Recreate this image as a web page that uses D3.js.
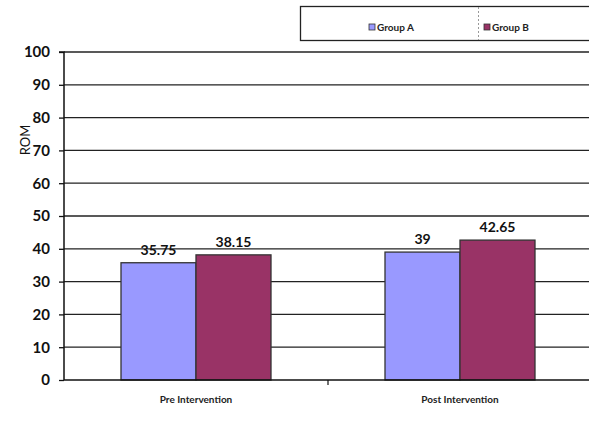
<!DOCTYPE html>
<html><head><meta charset="utf-8">
<script src="https://cdn.jsdelivr.net/npm/d3@7"></script>
<style>body{margin:0;background:#fff;}svg{display:block;font-family:Lato,"Open Sans",sans-serif;}</style>
</head><body><svg id="c" width="589" height="427"></svg>
<script>
const categories = ["Pre Intervention", "Post Intervention"];
const seriesNames = ["Group A", "Group B"];
const groupA = [35.75, 39];
const groupB = [38.15, 42.65];
const labelsA = ["35.75", "39"];
const labelsB = ["38.15", "42.65"];
const yTicks = [0, 10, 20, 30, 40, 50, 60, 70, 80, 90, 100];
const colors = ["#9999FF", "#993366"];

const svg = d3.select("#c");
const pLeft = 64, pRight = 592, pTop = 52, pBottom = 380;
const x = d3.scaleBand().domain(categories).range([pLeft, pRight]).paddingInner(0).paddingOuter(0);
const xs = d3.scaleBand().domain(seriesNames).range([0, x.bandwidth()]).paddingInner(0).paddingOuter(0.76);
const y = d3.scaleLinear().domain([0, 100]).range([pBottom, pTop]);

// gridlines
svg.append("g").selectAll("line").data(yTicks.filter(d => d > 0)).join("line")
  .attr("x1", pLeft).attr("x2", pRight).attr("y1", d => y(d)).attr("y2", d => y(d))
  .attr("stroke", "#222").attr("stroke-width", 1.3);

// bars
const series = [groupA, groupB];
const labels = [labelsA, labelsB];
series.forEach((vals, si) => {
  const g = svg.append("g");
  g.selectAll("rect").data(categories).join("rect")
    .attr("x", (c) => x(c) + xs(seriesNames[si]))
    .attr("width", xs.bandwidth())
    .attr("y", (c, i) => y(vals[i]))
    .attr("height", (c, i) => y(0) - y(vals[i]))
    .attr("fill", colors[si]).attr("stroke", "#333").attr("stroke-width", 1.3);
  g.selectAll("text").data(categories).join("text")
    .attr("x", (c) => x(c) + xs(seriesNames[si]) + xs.bandwidth() / 2)
    .attr("y", (c, i) => y(vals[i]) - 8)
    .attr("text-anchor", "middle").attr("font-weight", "bold").attr("font-size", 14)
    .attr("fill", "#111").text((c, i) => labels[si][i]);
});

// y axis
const yAxis = d3.axisLeft(y).tickValues(yTicks).tickSize(5).tickPadding(9).tickFormat(d3.format("d"));
const ya = svg.append("g").attr("transform", `translate(${pLeft},0)`).call(yAxis);
ya.select(".domain").attr("stroke", "#111").attr("stroke-width", 1.5).attr("d", `M-5,${pTop}H0V${pBottom}`);
ya.selectAll(".tick line").attr("stroke", "#111").attr("stroke-width", 1.3);
ya.selectAll(".tick text").attr("font-size", 15).attr("font-weight", "bold").attr("fill", "#111")
  .attr("font-family", "Lato, 'Open Sans', sans-serif");

// x axis
svg.append("line").attr("x1", pLeft).attr("x2", pRight).attr("y1", pBottom).attr("y2", pBottom)
  .attr("stroke", "#111").attr("stroke-width", 1.5);
svg.append("line").attr("x1", x(categories[1])).attr("x2", x(categories[1])).attr("y1", pBottom).attr("y2", pBottom + 5)
  .attr("stroke", "#111").attr("stroke-width", 1.2);
svg.append("g").selectAll("text").data(categories).join("text")
  .attr("x", c => x(c) + x.bandwidth() / 2).attr("y", 403)
  .attr("text-anchor", "middle").attr("font-size", 10).attr("font-weight", "bold").attr("fill", "#222")
  .text(c => c);

// y label
svg.append("text").attr("transform", "translate(30,140) rotate(-90)").attr("text-anchor", "middle")
  .attr("font-size", 13).attr("fill", "#111").text("ROM");

// legend
svg.append("rect").attr("x", 300.5).attr("y", 6.5).attr("width", 300).attr("height", 34)
  .attr("fill", "#fff").attr("stroke", "#222").attr("stroke-width", 1.3);
svg.append("line").attr("x1", 478.5).attr("x2", 478.5).attr("y1", 7).attr("y2", 40)
  .attr("stroke", "#999").attr("stroke-dasharray", "2,2");
const legX = [369, 484];
seriesNames.forEach((n, i) => {
  svg.append("rect").attr("x", legX[i]).attr("y", 24).attr("width", 6).attr("height", 6)
    .attr("fill", colors[i]).attr("stroke", "#333").attr("stroke-width", 0.8);
  svg.append("text").attr("x", legX[i] + 8).attr("y", 31).attr("font-size", 10).attr("font-weight", "bold")
    .attr("fill", "#222").text(n);
});
</script></body></html>
